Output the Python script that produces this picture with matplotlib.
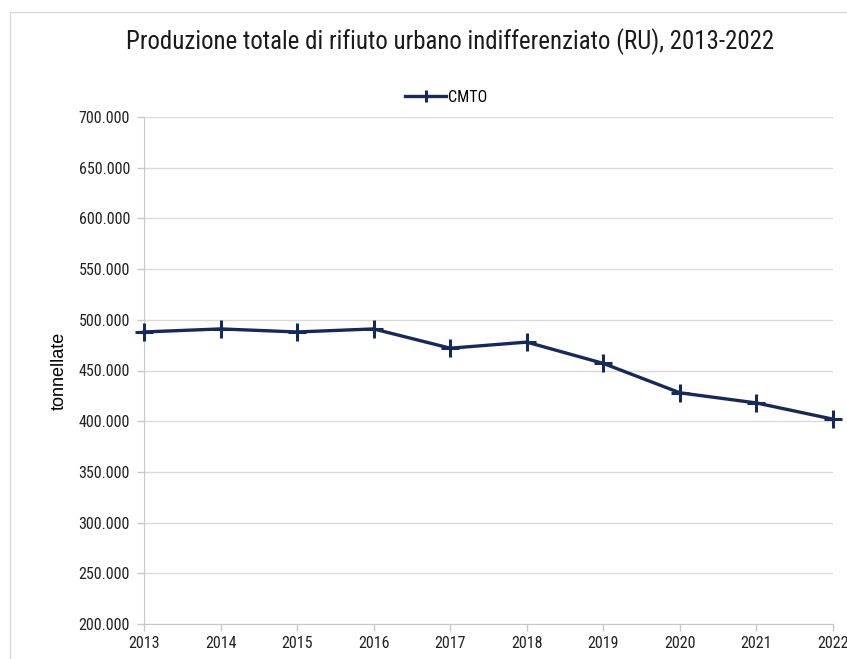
import matplotlib.pyplot as plt
from matplotlib.patches import Rectangle
from matplotlib.ticker import FuncFormatter

years = [2013, 2014, 2015, 2016, 2017, 2018, 2019, 2020, 2021, 2022]
cmto = [488000, 491000, 488000, 491000, 472000, 478000, 457000, 428000, 418000, 402000]

narrow = ["Roboto Condensed", "Archivo Narrow", "Liberation Sans"]

fig = plt.figure(figsize=(8.47, 6.59), dpi=100)
# light frame around the chart area
fig.patches.append(Rectangle((10 / 847, -0.1), 1.2, 1 - 12 / 659 + 0.1,
                             transform=fig.transFigure, fill=False,
                             edgecolor="#d9d9d9", linewidth=1))

ax = fig.add_axes([144 / 847, 1 - 624 / 659, (833 - 144) / 847, (624 - 117) / 659])
ax.plot(years, cmto, color="#15295a", linewidth=2.4, marker="+",
        markersize=13, markeredgewidth=2.2, label="CMTO", clip_on=False, zorder=3)

ax.set_xlim(2013, 2022)
ax.set_ylim(200000, 700000)
ax.set_xticks(years)
ax.set_yticks(range(200000, 700001, 50000))
ax.yaxis.set_major_formatter(FuncFormatter(lambda v, p: f"{int(v):,}".replace(",", ".")))
ax.grid(axis="y", color="#d9d9d9", linewidth=1)
ax.set_axisbelow(True)
for s in ["top", "right"]:
    ax.spines[s].set_visible(False)
for s in ["left", "bottom"]:
    ax.spines[s].set_color("#c8c8c8")
ax.tick_params(colors="#c8c8c8", labelcolor="#222222", length=5, width=1)
ax.tick_params(axis="y", pad=5)
for lbl in ax.get_xticklabels() + ax.get_yticklabels():
    lbl.set_fontfamily(narrow)
    lbl.set_fontsize(11.5)

ax.set_ylabel("tonnellate", fontsize=13, fontfamily="Liberation Sans", labelpad=8)

fig.text(450 / 847, 1 - 42 / 659, "Produzione totale di rifiuto urbano indifferenziato (RU), 2013-2022",
         ha="center", va="center", fontsize=17.9, fontfamily=narrow, color="#1a1a1a")
ax.legend(loc="center", bbox_to_anchor=(446 / 847, 1 - 97 / 659), bbox_transform=fig.transFigure,
          frameon=False, prop={"family": narrow, "size": 11.5}, handlelength=2.6,
          handletextpad=0.1, markerscale=0.65)

fig.savefig("out.png", dpi=100)
